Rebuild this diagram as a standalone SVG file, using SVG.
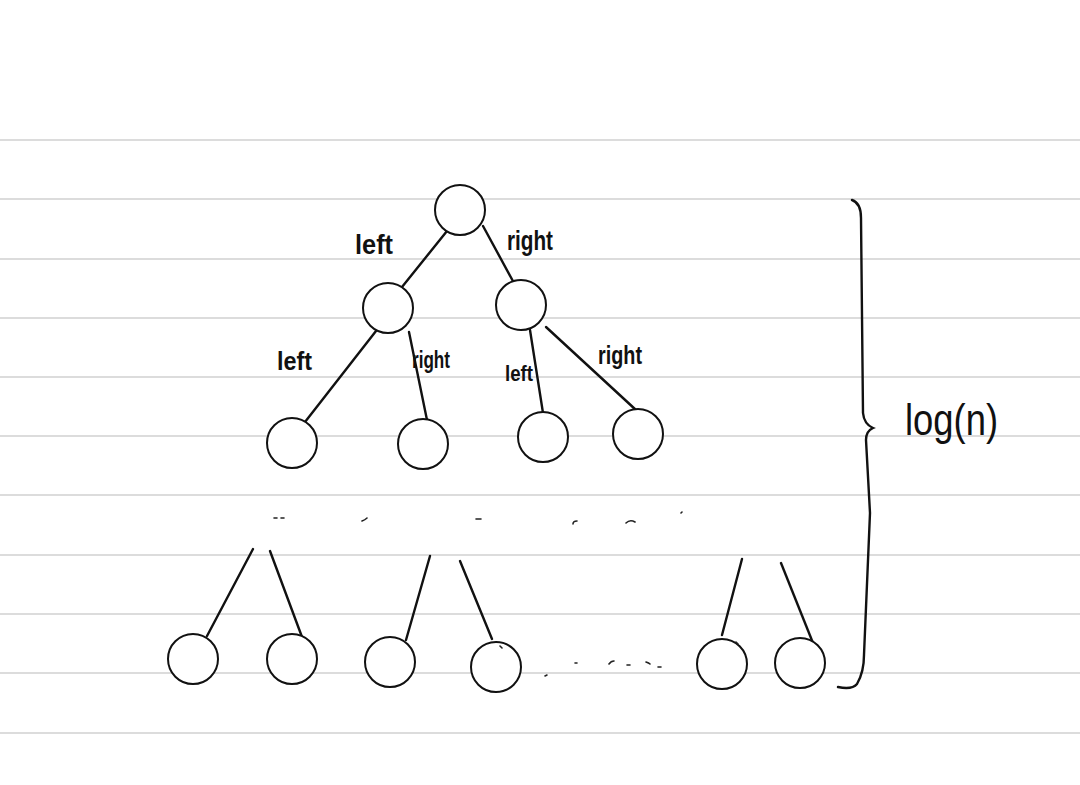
<svg xmlns="http://www.w3.org/2000/svg" width="1080" height="785" viewBox="0 0 1080 785">
<style>
.rule{stroke:#dcdcdc;stroke-width:2}
.node{fill:#fff;stroke:#111;stroke-width:2}
.edge{stroke:#111;stroke-width:2.4;stroke-linecap:round;fill:none}
.speck{stroke:#222;stroke-width:1.6;stroke-linecap:round;fill:none}
.lbl{font-family:"Liberation Sans",Arial,sans-serif;font-weight:bold;fill:#111}
.big{font-family:"Liberation Sans",Arial,sans-serif;fill:#111}
</style>
<rect width="1080" height="785" fill="#fff"/>
<g id="paper">
<line class="rule" x1="0" y1="140" x2="1080" y2="140"/>
<line class="rule" x1="0" y1="199" x2="1080" y2="199"/>
<line class="rule" x1="0" y1="259" x2="1080" y2="259"/>
<line class="rule" x1="0" y1="318" x2="1080" y2="318"/>
<line class="rule" x1="0" y1="377" x2="1080" y2="377"/>
<line class="rule" x1="0" y1="436" x2="1080" y2="436"/>
<line class="rule" x1="0" y1="495" x2="1080" y2="495"/>
<line class="rule" x1="0" y1="555" x2="1080" y2="555"/>
<line class="rule" x1="0" y1="614" x2="1080" y2="614"/>
<line class="rule" x1="0" y1="673" x2="1080" y2="673"/>
<line class="rule" x1="0" y1="733" x2="1080" y2="733"/>
</g>
<g id="connectors">
<line class="edge" x1="447" y1="231" x2="402" y2="287"/>
<line class="edge" x1="483" y1="226" x2="514" y2="283"/>
<line class="edge" x1="376" y1="331" x2="305" y2="422"/>
<line class="edge" x1="409" y1="332" x2="427" y2="420"/>
<line class="edge" x1="530" y1="330" x2="543" y2="413"/>
<line class="edge" x1="546" y1="327" x2="636" y2="410"/>
<line class="edge" x1="253" y1="549" x2="207" y2="636"/>
<line class="edge" x1="270" y1="551" x2="302" y2="637"/>
<line class="edge" x1="430" y1="556" x2="406" y2="640"/>
<line class="edge" x1="460" y1="561" x2="492" y2="639"/>
<line class="edge" x1="742" y1="559" x2="722" y2="635"/>
<line class="edge" x1="781" y1="563" x2="813" y2="643"/>
</g>
<g id="root"><circle class="node" cx="460" cy="210" r="25"/></g>
<g id="n-l"><circle class="node" cx="388" cy="308" r="25"/></g>
<g id="n-r"><circle class="node" cx="521" cy="305" r="25"/></g>
<g id="n-ll"><circle class="node" cx="292" cy="443" r="25"/></g>
<g id="n-lr"><circle class="node" cx="423" cy="444" r="25"/></g>
<g id="n-rl"><circle class="node" cx="543" cy="437" r="25"/></g>
<g id="n-rr"><circle class="node" cx="638" cy="434" r="25"/></g>
<g id="leaf1"><circle class="node" cx="193" cy="659" r="25"/></g>
<g id="leaf2"><circle class="node" cx="292" cy="659" r="25"/></g>
<g id="leaf3"><circle class="node" cx="390" cy="662" r="25"/></g>
<g id="leaf4"><circle class="node" cx="496" cy="667" r="25"/></g>
<g id="leaf5"><circle class="node" cx="722" cy="664" r="25"/></g>
<g id="leaf6"><circle class="node" cx="800" cy="663" r="25"/></g>
<g id="labels">
<text class="lbl" x="355" y="254" font-size="28" textLength="38" lengthAdjust="spacingAndGlyphs">left</text>
<text class="lbl" x="507" y="250" font-size="28" textLength="46" lengthAdjust="spacingAndGlyphs">right</text>
<text class="lbl" x="277" y="370" font-size="26" textLength="35" lengthAdjust="spacingAndGlyphs">left</text>
<text class="lbl" x="412" y="368" font-size="24" textLength="38" lengthAdjust="spacingAndGlyphs">right</text>
<text class="lbl" x="505" y="381" font-size="22" textLength="28" lengthAdjust="spacingAndGlyphs">left</text>
<text class="lbl" x="598" y="364" font-size="26" textLength="44" lengthAdjust="spacingAndGlyphs">right</text>
</g>
<g id="brace">
<path class="edge" d="M852,200 Q861,203 861,218 L863,413 Q864,424 873,428 Q866,431 866,440 L870,513 L864,655 Q864,672 857,684 Q852,690 838,687"/>
</g>
<g id="height-label">
<text class="big" x="905" y="435" font-size="44" textLength="93" lengthAdjust="spacingAndGlyphs">log(n)</text>
</g>
<g id="specks">
<path class="speck" d="M274,518 l3,0 M281,518 l3,0 M362,521 q3,-1 5,-3 M476,519 l5,0 M573,524 q0,-3 4,-3 M626,523 q4,-4 9,-1 M681,513 l1,-1 M545,676 l2,-1 M575,663 l2,0 M609,664 q2,-3 5,-3 M627,665 l3,0 M646,662 q3,1 4,2 M658,667 l3,0 M500,646 l2,2 M736,642 l2,2"/>
</g>
</svg>
